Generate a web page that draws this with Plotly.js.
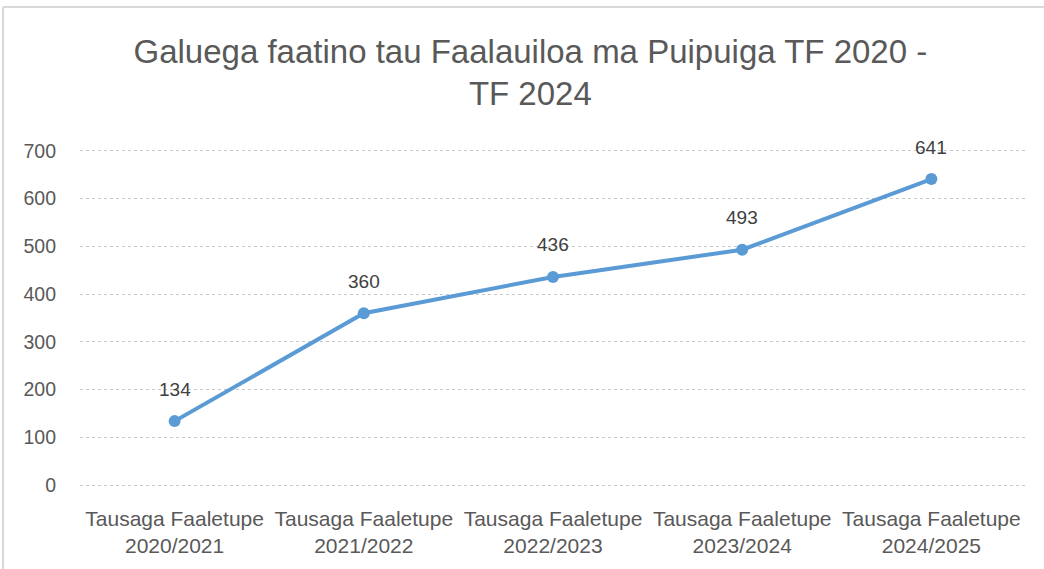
<!DOCTYPE html>
<html>
<head>
<meta charset="utf-8">
<script src="https://cdn.plot.ly/plotly-3.0.1.min.js"></script>
<style>html,body{margin:0;padding:0;background:#fff;}#chart{width:1044px;height:569px;}</style>
</head>
<body>
<div id="chart"></div>
<script>
var categories = ["Tausaga Faaletupe<br>2020/2021", "Tausaga Faaletupe<br>2021/2022", "Tausaga Faaletupe<br>2022/2023", "Tausaga Faaletupe<br>2023/2024", "Tausaga Faaletupe<br>2024/2025"];
var values = [134, 360, 436, 493, 641];
var yTicks = [0, 100, 200, 300, 400, 500, 600, 700];
var titleText = "Galuega faatino tau Faalauiloa ma Puipuiga TF 2020 -<br>TF 2024";

var FONT = "Liberation Sans, Arial, sans-serif";
var trace = {
  x: categories,
  y: values,
  type: "scatter",
  mode: "lines+markers",
  line: {color: "#5B9BD5", width: 4},
  marker: {color: "#5B9BD5", size: 12},
  hoverinfo: "skip"
};
var annotations = values.map(function(v, i){
  return {x: categories[i], y: v, xref: "x", yref: "y", text: String(v), showarrow: false,
          yshift: 32, font: {family: FONT, size: 19, color: "#404040"}};
});
var layout = {
  width: 1044, height: 569,
  margin: {l: 80, r: 18, t: 149, b: 82},
  paper_bgcolor: "#ffffff", plot_bgcolor: "#ffffff",
  showlegend: false,
  title: {text: titleText, x: 0.508, xanchor: "center", y: 0.89, yanchor: "top",
          font: {family: FONT, size: 33, color: "#595959"}},
  xaxis: {type: "category", showgrid: false, zeroline: false, showline: false, ticks: "",
          tickfont: {family: FONT, size: 21, color: "#595959"}, ticklabelstandoff: 17,
          range: [-0.5, 4.5], fixedrange: true},
  yaxis: {range: [-4, 704], tickvals: yTicks, ticktext: yTicks.map(String), showgrid: true,
          gridcolor: "#C8C8C8", griddash: "dot", gridwidth: 1, zeroline: false, showline: false,
          ticks: "", tickfont: {family: FONT, size: 19.5, color: "#595959"}, ticklabelstandoff: 23,
          fixedrange: true},
  annotations: annotations,
  shapes: [
    {type: "line", xref: "paper", yref: "paper", x0: -0.0814, x1: 1.1, y0: 1.4201, y1: 1.4201,
     line: {color: "#D9D9D9", width: 2}},
    {type: "line", xref: "paper", yref: "paper", x0: -0.0814, x1: -0.0814, y0: -0.5, y1: 1.4201,
     line: {color: "#D9D9D9", width: 2}}
  ]
};
Plotly.newPlot("chart", [trace], layout, {displayModeBar: false, staticPlot: true});
</script>
</body>
</html>
